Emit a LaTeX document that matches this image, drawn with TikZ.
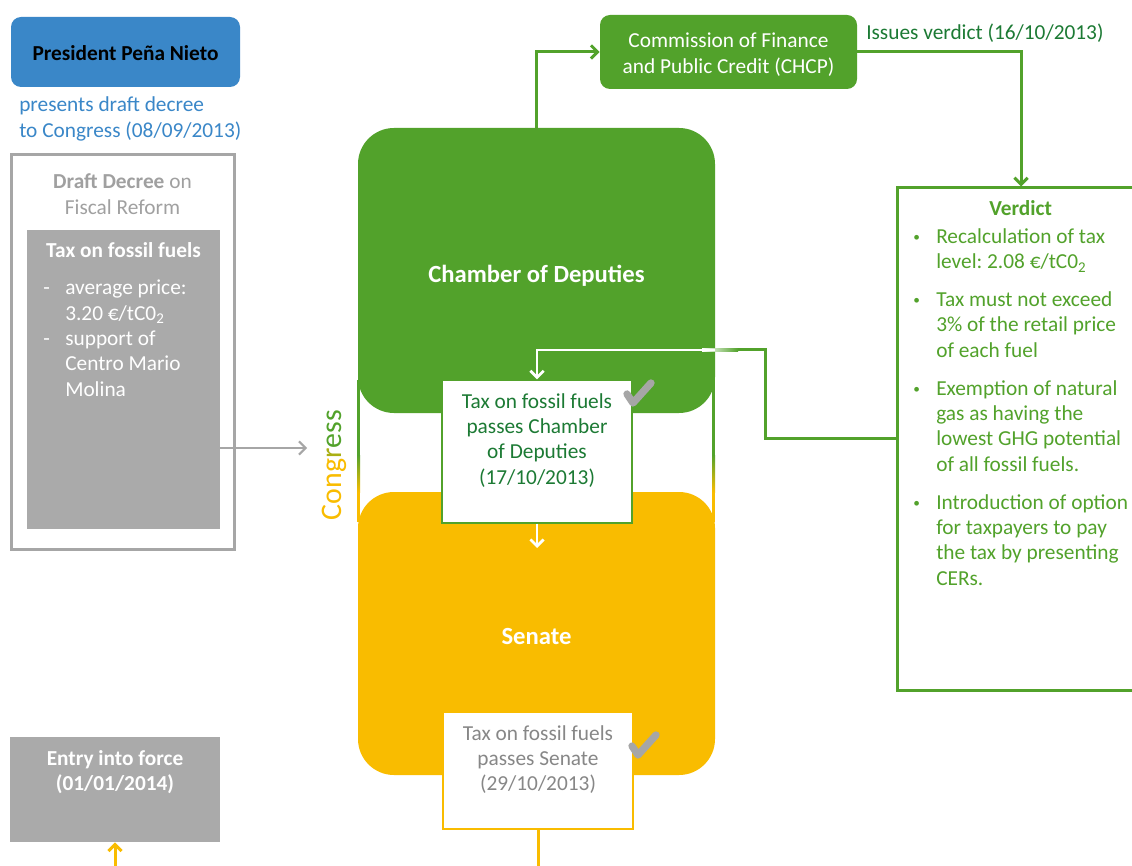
\documentclass[tikz,border=0pt]{standalone}
\usepackage{fontspec}
\setmainfont{Carlito}
\usetikzlibrary{arrows.meta,fit}
\definecolor{cgreen}{RGB}{82,162,43}
\definecolor{cyellow}{RGB}{249,188,0}
\definecolor{cmid}{RGB}{170,175,20}
\definecolor{pblue}{RGB}{58,135,200}
\definecolor{dgreen}{RGB}{28,122,52}
\definecolor{boxgray}{RGB}{170,170,170}
\definecolor{linegray}{RGB}{166,166,166}
\definecolor{dgray}{RGB}{160,160,160}
\definecolor{txtgray}{RGB}{135,135,135}
\newcommand{\vbul}{\raisebox{1.5pt}{\fontsize{10}{10}\selectfont\textbullet}}
\frenchspacing
\begin{document}
\begin{tikzpicture}[x=0.75pt,y=-0.75pt,
  font=\fontsize{16}{19}\selectfont,
  txt/.style={inner sep=0pt,anchor=base},
  box/.style={inner sep=0pt},
  openarr/.style={-{Straight Barb[length=5pt,width=10pt]}},
  checkline/.style={linegray,line width=5.5pt,line cap=round,line join=round}]
\fill[white](0,0)rectangle(1132,866);
\useasboundingbox(0,0)rectangle(1132,866);
% president and draft decree
\node[box,fit={(11,17) (240,87)},fill=pblue,rounded corners=7.5pt] (pres) {};
\node[txt] (prestxt) at (125.5,61) {\textbf{President Peña Nieto}};
\node[txt,anchor=base west,text=pblue] (presents) at (19,112)
  {\begin{tabular}[t]{@{}l@{}}presents draft decree\\to Congress (08/09/2013)\end{tabular}};
\node[box,fit={(11,155) (234,549)},draw=linegray,line width=2.25pt] (draft) {};
\node[txt,text=dgray] (drafttxt) at (122.5,189)
  {\begin{tabular}[t]{@{}c@{}}\textbf{Draft Decree} on\\Fiscal Reform\end{tabular}};
\node[box,fit={(27,230) (220,529)},fill=boxgray] (taxbox) {};
\node[txt,text=white] (taxtitle) at (123.5,258) {\textbf{Tax on fossil fuels}};
\node[txt,anchor=base west,text=white] (taxlist) at (43,295)
  {\begin{tabular}[t]{@{}p{16.5pt}@{}l@{}}
  - & average price:\\
    & 3.20 €/tC0\textsubscript{2}\\
  - & support of\\
    & Centro Mario\\
    & Molina
  \end{tabular}};
\node[box,fit={(10,737) (220,842)},fill=boxgray] (entry) {};
\node[txt,text=white] (entrytxt) at (115,765)
  {\begin{tabular}[t]{@{}c@{}}\textbf{Entry into force}\\\textbf{(01/01/2014)}\end{tabular}};
% congress
\foreach \x in {357,712}{
  \fill[cgreen](\x,380)rectangle++(3,75);
  \shade[top color=cgreen,bottom color=cyellow](\x,455)rectangle++(3,37);
  \fill[cyellow](\x,492)rectangle++(3,30);
}
\node[box,fit={(358,128) (715,413)},fill=cgreen,rounded corners=27pt] (chamber) {};
\node[box,fit={(358,492) (715,775)},fill=cyellow,rounded corners=27pt] (senate) {};
\node[txt,text=white,font=\fontsize{18.5}{22}\selectfont\bfseries] (chambertxt) at (536.5,283) {Chamber of Deputies};
\node[txt,text=white,font=\fontsize{18.5}{22}\selectfont\bfseries] (senatetxt) at (536.5,644) {Senate};
\node[txt,rotate=90,font=\fontsize{22.4}{26}\selectfont] (congtxt) at (341,465)
  {\textcolor{cyellow}{Cong}\textcolor{cmid}{r}\textcolor{cgreen}{ess}};
\node[box,fit={(442,380) (632,523)},fill=white,draw=cgreen,line width=1.1pt] (chpass) {};
\node[txt,text=dgreen] (chpasstxt) at (537,408)
  {\begin{tabular}[t]{@{}c@{}}Tax on fossil fuels\\passes Chamber\\of Deputies\\(17/10/2013)\end{tabular}};
\node[box,fit={(443,712) (633,829)},fill=white,draw=cyellow,line width=1.1pt] (senpass) {};
\node[txt,text=txtgray] (senpasstxt) at (538,740)
  {\begin{tabular}[t]{@{}c@{}}Tax on fossil fuels\\passes Senate\\(29/10/2013)\end{tabular}};
\foreach \dx/\dy in {0/0,5/352}
  \draw[checkline,shift={(\dx,\dy)}](627,394)--(633,403)--(651,383);
% commission and verdict
\node[box,fit={(600,15) (857,89)},fill=cgreen,rounded corners=7.5pt] (chcp) {};
\node[txt,text=white] (chcptxt) at (728.5,48)
  {\begin{tabular}[t]{@{}c@{}}Commission of Finance\\and Public Credit (CHCP)\end{tabular}};
\node[txt,anchor=base west,text=dgreen] (issues) at (866,40) {Issues verdict (16/10/2013)};
\node[box,fit={(897,188) (1145,690)},draw=cgreen,line width=2.25pt] (verdict) {};
\node[txt,anchor=base west,text=cgreen] (verdicttxt) at (913,216)
  {\begin{tabular}[t]{@{}p{17.25pt}@{}l@{}}
  \multicolumn{2}{c}{\textbf{Verdict}}\\[1.5pt]
  \vbul & Recalculation of tax\\
    & level: 2.08 €/tC0\textsubscript{2}\\[9.5pt]
  \vbul & Tax must not exceed\\
    & 3\% of the retail price\\
    & of each fuel\\[9.5pt]
  \vbul & Exemption of natural\\
    & gas as having the\\
    & lowest GHG potential\\
    & of all fossil fuels.\\[9.5pt]
  \vbul & Introduction of option\\
    & for taxpayers to pay\\
    & the tax by presenting\\
    & CERs.
  \end{tabular}};
% connectors
\coordinate (grayend) at (307,448);
\draw[openarr,linegray,line width=1.5pt](grayend -| taxbox.east)--(grayend);
\draw[openarr,cgreen,line width=2.25pt](chamber.north)|-(chcp.west);
\draw[openarr,cgreen,line width=2.25pt](chcp.east)-|(verdict.north);
\coordinate (loopa) at (765,350);
\draw[cgreen,line width=2.25pt](verdict.west |- 0,438)-|(loopa)--(chamber.east |- loopa);
\shade[left color=white,right color=cgreen](702,348.5)rectangle(738,351.5);
\draw[openarr,white,line width=2pt](chamber.east |- loopa)-|(chpass.north);
\draw[openarr,white,line width=2pt](chpass.south)--(chpass.south |- 0,548);
\draw[cyellow,line width=2.25pt](senpass.south)--(senpass.south |- 0,870);
\draw[openarr,cyellow,line width=2.25pt](entry.south |- 0,870)--(entry.south);
\end{tikzpicture}
\end{document}
